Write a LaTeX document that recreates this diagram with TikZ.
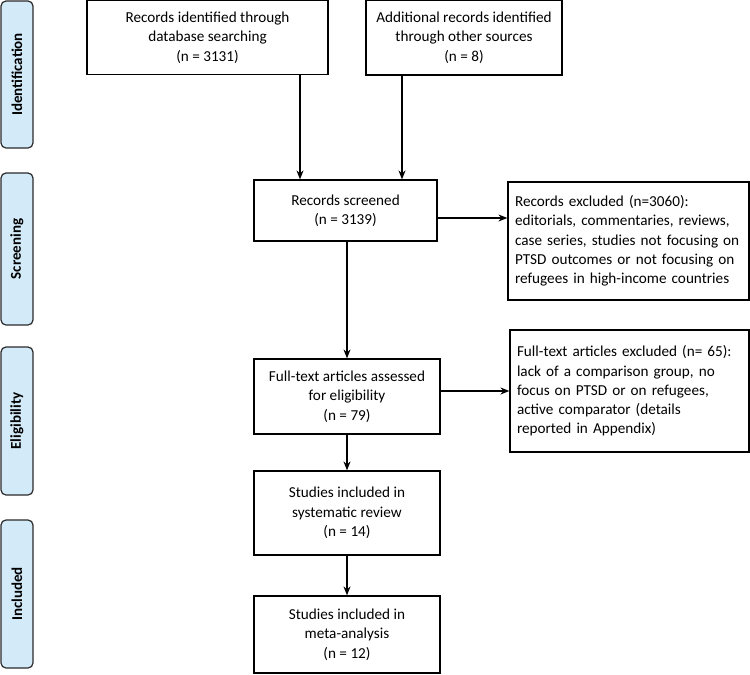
\documentclass[tikz,border=0pt]{standalone}
\usepackage{fontspec}
\setmainfont{Carlito}
\usetikzlibrary{arrows.meta,calc}
\definecolor{phase}{HTML}{D3EAF9}
\definecolor{phaseline}{HTML}{2B2B2B}
\tikzset{
  box/.style={draw=black, line width=1.2pt, align=center, inner sep=2pt,
    font=\fontsize{15.2}{19.3}\selectfont, minimum width=#1},
  lbox/.style={draw=black, line width=1.2pt, align=left, inner sep=7pt,
    font=\fontsize{15.2}{19.3}\selectfont, text width=#1},
  phasebox/.style={draw=phaseline, fill=phase, line width=1.2pt, rounded corners=5pt,
    minimum height=32pt, minimum width=#1, rotate=90, font=\bfseries\fontsize{15}{16}\selectfont},
  arr/.style={line width=1.3pt, -{Stealth[length=9pt,width=7pt]}},
}
\begin{document}
\begin{tikzpicture}[x=1pt,y=-1pt]
\fill[white] (0,0) rectangle (750,675);
\useasboundingbox (0,0) rectangle (750,675);
% phase labels
\node[phasebox=147pt] (pid) at (17,74.5) {Identification};
\node[phasebox=152pt] (psc) at (17,249) {Screening};
\node[phasebox=148pt] (pel) at (17,421) {Eligibility};
\node[phasebox=148pt] (pin) at (17,594) {Included};
% main boxes
\node[box=241pt, minimum height=74pt] (db) at (207.5,37.5) {Records identified through\\database searching\\(n = 3131)};
\node[box=196pt, minimum height=75pt] (other) at (464,37.5) {Additional records identified\\through other sources\\(n = 8)};
\node[box=183pt, minimum height=61pt] (scr) at (345.5,210.5) {Records screened\\(n = 3139)};
\node[lbox=227pt, minimum height=118pt] (ex1) at (628.5,241) {Records excluded (n=3060):\\editorials, commentaries, reviews,\\case series, studies not focusing on\\PTSD outcomes or not focusing on\\refugees in high-income countries};
\node[box=186pt, minimum height=75pt] (ft) at (347,396.5) {Full-text articles assessed\\for eligibility\\(n = 79)};
\node[lbox=225pt, minimum height=122pt] (ex2) at (629.5,391) {Full-text articles excluded (n= 65):\\lack of a comparison group, no\\focus on PTSD or on refugees,\\active comparator (details\\reported in Appendix)};
\node[box=186pt, minimum height=84pt] (sr) at (347,513) {Studies included in\\systematic review\\(n = 14)};
\node[box=186pt, minimum height=77pt] (ma) at (347,634.5) {Studies included in\\meta-analysis\\(n = 12)};
% helper coordinates
\coordinate (c1) at (300,0);
\coordinate (c2) at (402,0);
\coordinate (c3) at (0,218);
% connectors
\draw[arr] (db.south -| c1) -- (scr.north -| c1);
\draw[arr] (other.south -| c2) -- (scr.north -| c2);
\draw[arr] (scr.east |- c3) -- (ex1.west |- c3);
\draw[arr] (scr.south -| ft) -- (ft.north);
\draw[arr] (ft.east |- ex2) -- (ex2.west);
\draw[arr] (ft.south) -- (sr.north);
\draw[arr] (sr.south) -- (ma.north);
\end{tikzpicture}
\end{document}
